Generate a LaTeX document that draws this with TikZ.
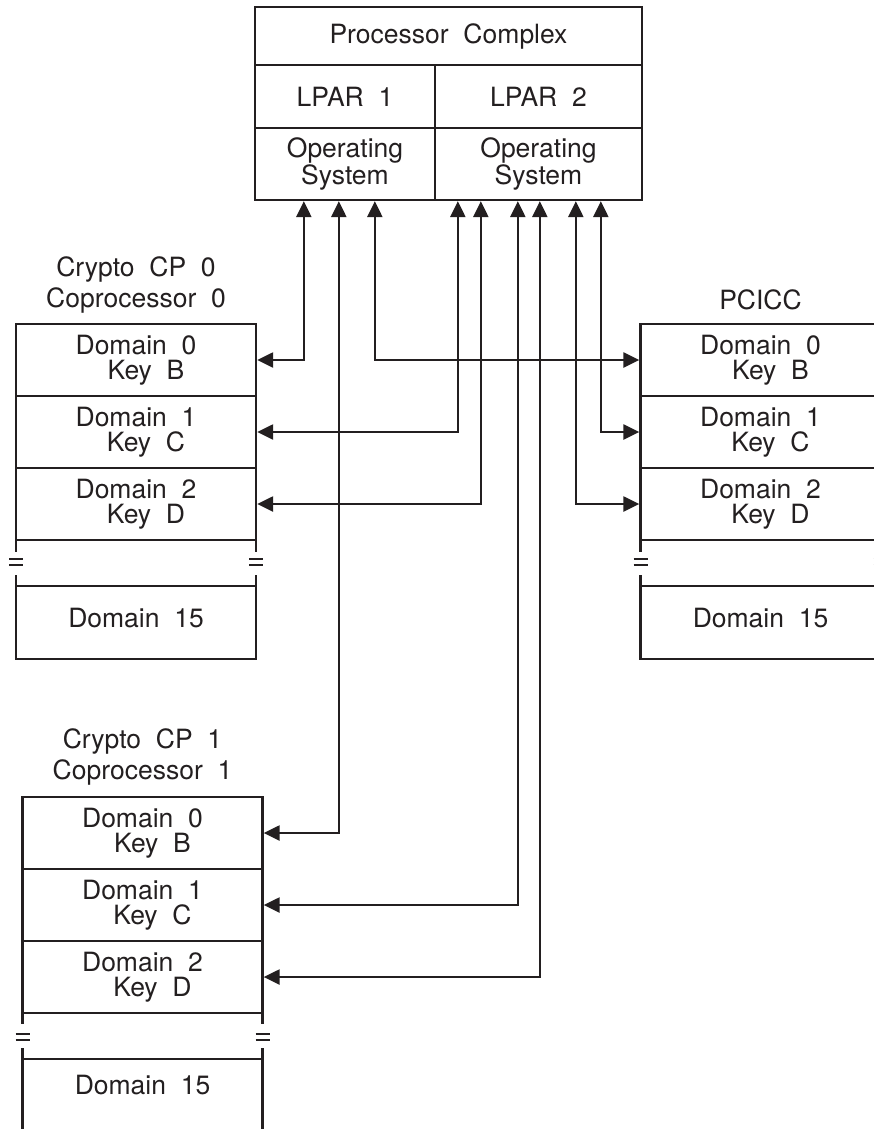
\documentclass[tikz,border=0pt]{standalone}
\usepackage{fontspec}
\setmainfont{TeX Gyre Heros}
\usetikzlibrary{arrows.meta}
\definecolor{ink}{HTML}{231F20}
\tikzset{
  box/.style={draw=ink, rectangle, inner sep=0pt, align=center, text=ink,
    font=\fontsize{26.5}{25}\selectfont},
  dom/.style={box, minimum width=240pt, minimum height=72pt},
  lbl/.style={inner sep=0pt, align=center, text=ink, font=\fontsize{26.5}{31}\selectfont},
  biarrow/.style={draw=ink, {Triangle[length=16pt,width=15pt]}-{Triangle[length=16pt,width=15pt]}},
  eqline/.style={draw=ink, line width=1.8pt},
  side/.style={draw=ink}
}
\begin{document}
\begin{tikzpicture}[x=1pt, y=-1pt, line width=2.3pt]
\useasboundingbox (0,0) rectangle (874,1129);
\clip (0,0) rectangle (874,1129);

% Processor complex
\node[box, minimum width=387pt, minimum height=58pt] (pc) at (448.5,36) {Processor~~Complex};
\node[box, minimum width=180pt, minimum height=63pt] (lp1) at (345,96.5) {LPAR~~1};
\node[box, minimum width=207pt, minimum height=63pt] (lp2) at (538.5,96.5) {LPAR~~2};
\node[box, minimum width=180pt, minimum height=72pt, font=\fontsize{26.5}{24}\selectfont] (os1) at (345,164) {Operating\\System};
\node[box, minimum width=207pt, minimum height=72pt, font=\fontsize{26.5}{24}\selectfont] (os2) at (538.5,164) {Operating\\System};

% Crypto CP 0
\node[lbl] (c0lbl) at (136,284.5) {Crypto~~CP~~0\\Coprocessor~~0};
\node[dom] (c0d0) at (136,360) {Domain~~0\\\hspace*{20pt}Key~~B};
\node[dom] (c0d1) at (136,432) {Domain~~1\\\hspace*{20pt}Key~~C};
\node[dom] (c0d2) at (136,504) {Domain~~2\\\hspace*{20pt}Key~~D};
\draw[side] (16,540) -- (16,552) (256,540) -- (256,552);
\draw[eqline] (9,559) -- (23,559) (9,565) -- (23,565) (249,559) -- (263,559) (249,565) -- (263,565);
\draw[side] (16,575) -- (16,586) (256,575) -- (256,586);
\node[dom, minimum height=73pt] (c0d15) at (136,622.5) {\raisebox{9pt}{Domain~~15}};

% PCICC
\node[lbl] (pclbl) at (760.5,300) {PCICC};
\node[dom] (p0) at (760.5,360) {Domain~~0\\\hspace*{20pt}Key~~B};
\node[dom] (p1) at (760.5,432) {Domain~~1\\\hspace*{20pt}Key~~C};
\node[dom] (p2) at (760.5,504) {Domain~~2\\\hspace*{20pt}Key~~D};
\draw[side] (640.5,540) -- (640.5,552) (880.5,540) -- (880.5,552);
\draw[eqline] (633.5,559) -- (647.5,559) (633.5,565) -- (647.5,565) (873.5,559) -- (887.5,559) (873.5,565) -- (887.5,565);
\draw[side] (640.5,575) -- (640.5,586) (880.5,575) -- (880.5,586);
\node[dom, minimum height=73pt] (p15) at (760.5,622.5) {\raisebox{9pt}{Domain~~15}};

% Crypto CP 1
\node[lbl] (c1lbl) at (142.5,756.5) {Crypto~~CP~~1\\Coprocessor~~1};
\node[dom] (c1d0) at (142.5,833) {Domain~~0\\\hspace*{20pt}Key~~B};
\node[dom] (c1d1) at (142.5,905) {Domain~~1\\\hspace*{20pt}Key~~C};
\node[dom] (c1d2) at (142.5,977) {Domain~~2\\\hspace*{20pt}Key~~D};
\draw[side] (22.5,1013) -- (22.5,1024) (262.5,1013) -- (262.5,1024);
\draw[eqline] (15.5,1034) -- (29.5,1034) (15.5,1040) -- (29.5,1040) (255.5,1034) -- (269.5,1034) (255.5,1040) -- (269.5,1040);
\draw[side] (22.5,1048) -- (22.5,1140) (262.5,1048) -- (262.5,1140);
\draw[side] (22.5,1059) -- (262.5,1059);
\node[lbl] (c1d15) at (142.5,1085) {Domain~~15};

% Connectors
\draw[biarrow] ([xshift=50pt]os1.south west) |- (c0d0.east);
\draw[biarrow] ([xshift=85pt]os1.south west) |- (c1d0.east);
\draw[biarrow] ([xshift=121pt]os1.south west) |- (p0.west);
\draw[biarrow] ([xshift=24pt]os2.south west) |- (c0d1.east);
\draw[biarrow] ([xshift=47pt]os2.south west) |- (c0d2.east);
\draw[biarrow] ([xshift=84pt]os2.south west) |- (c1d1.east);
\draw[biarrow] ([xshift=106pt]os2.south west) |- (c1d2.east);
\draw[biarrow] ([xshift=142pt]os2.south west) |- (p2.west);
\draw[biarrow] ([xshift=167pt]os2.south west) |- (p1.west);
\end{tikzpicture}
\end{document}
